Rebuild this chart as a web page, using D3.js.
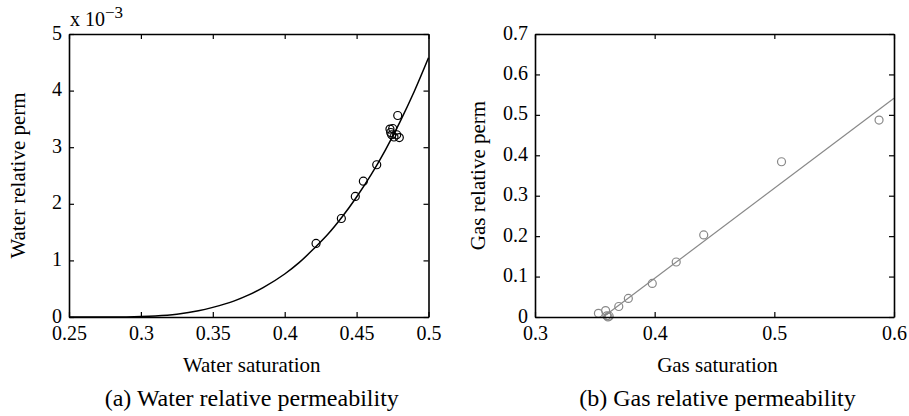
<!DOCTYPE html>
<html>
<head>
<meta charset="utf-8">
<script src="https://cdn.jsdelivr.net/npm/d3@7"></script>
<style>
  html, body { margin: 0; padding: 0; background: #fff; }
  svg text { font-family: "Liberation Serif", "DejaVu Serif", serif; fill: #000; }
</style>
</head>
<body>
<div id="chart"></div>
<script>
// water relative permeability: measured points
const waterSat  = [0.4218, 0.4394, 0.4491, 0.4547, 0.464, 0.4732, 0.4737, 0.4744, 0.4751, 0.476, 0.4779, 0.4786, 0.4797];
const waterPerm = [0.00130, 0.00174, 0.00213, 0.00240, 0.00269, 0.00332, 0.00326, 0.00322, 0.00333, 0.00318, 0.00322, 0.00356, 0.00317];

// water relative permeability: fitted curve
const waterFitSat  = [0.25, 0.27, 0.28, 0.29, 0.30, 0.31, 0.325, 0.34, 0.35, 0.365, 0.375, 0.385, 0.40, 0.41, 0.42, 0.43, 0.44, 0.45, 0.46, 0.47, 0.48, 0.49, 0.50];
const waterFitPerm = [0, 0, 0, 0.000002, 0.000008, 0.000019, 0.00005, 0.000109, 0.00017, 0.000285, 0.00039, 0.00052, 0.00076, 0.00096, 0.00120, 0.00146, 0.00177, 0.00212, 0.00251, 0.00295, 0.00344, 0.00398, 0.00458];

// gas relative permeability: measured points
const gasSat  = [0.353, 0.359, 0.360, 0.361, 0.362, 0.370, 0.378, 0.398, 0.418, 0.441, 0.506, 0.5875];
const gasPerm = [0.009, 0.016, 0.003, 0.0, 0.002, 0.026, 0.046, 0.083, 0.136, 0.203, 0.384, 0.487];

// gas relative permeability: fitted line
const gasFitSat  = [0.357, 0.60];
const gasFitPerm = [0.0, 0.541];

// axis ticks
const waterSatTicks  = [0.25, 0.3, 0.35, 0.4, 0.45, 0.5];
const waterPermTicks = [0, 0.001, 0.002, 0.003, 0.004, 0.005];
const gasSatTicks    = [0.3, 0.4, 0.5, 0.6];
const gasPermTicks   = [0, 0.1, 0.2, 0.3, 0.4, 0.5, 0.6, 0.7];

const W = 909, H = 416;
const FONT = '"Liberation Serif", "DejaVu Serif", serif';
const svg = d3.select('#chart').append('svg')
    .attr('width', W)
    .attr('height', H)
    .attr('viewBox', `0 0 ${W} ${H}`)
    .attr('font-family', FONT);

function drawPanel(opt) {
    const x = d3.scaleLinear().domain(opt.xDomain).range([opt.left, opt.right]);
    const y = d3.scaleLinear().domain(opt.yDomain).range([opt.bottom, opt.top]);
    const g = svg.append('g');

    // fitted curve first, points on top
    const fit = d3.zip(opt.fitX, opt.fitY);
    g.append('path')
        .datum(fit)
        .attr('fill', 'none')
        .attr('stroke', opt.color)
        .attr('stroke-width', opt.lineWidth)
        .attr('d', d3.line().x(d => x(d[0])).y(d => y(d[1])).curve(d3.curveMonotoneX));

    g.selectAll('circle')
        .data(d3.zip(opt.ptX, opt.ptY))
        .join('circle')
        .attr('cx', d => x(d[0]))
        .attr('cy', d => y(d[1]))
        .attr('r', 4)
        .attr('fill', 'none')
        .attr('stroke', opt.color)
        .attr('stroke-width', 1.2);

    // axes, MATLAB style box with inward ticks
    const tick = 5;
    const bottom = g.append('g')
        .attr('transform', `translate(0,${opt.bottom})`)
        .call(d3.axisBottom(x).tickValues(opt.xTicks).tickSizeInner(-tick).tickSizeOuter(0)
            .tickPadding(9).tickFormat(d => String(d)));
    const left = g.append('g')
        .attr('transform', `translate(${opt.left},0)`)
        .call(d3.axisLeft(y).tickValues(opt.yTicks).tickSizeInner(-tick).tickSizeOuter(0)
            .tickPadding(7).tickFormat(opt.yFormat));
    left.selectAll('.tick text').attr('dy', '0.25em');
    const top = g.append('g')
        .attr('transform', `translate(0,${opt.top})`)
        .call(d3.axisTop(x).tickValues(opt.xTicks).tickSizeInner(-tick).tickSizeOuter(0).tickFormat(''));
    const right = g.append('g')
        .attr('transform', `translate(${opt.right},0)`)
        .call(d3.axisRight(y).tickValues(opt.yTicks).tickSizeInner(-tick).tickSizeOuter(0).tickFormat(''));

    [bottom, left, top, right].forEach(a => {
        a.attr('font-family', FONT);
        a.select('.domain').attr('stroke', '#000').attr('stroke-width', 1.6);
        a.selectAll('.tick line').attr('stroke', '#000').attr('stroke-width', 1.2);
        a.selectAll('.tick text')
            .attr('font-size', '20px')
            .attr('fill', '#000');
    });

    const cx = (opt.left + opt.right) / 2;

    // x title
    g.append('text')
        .attr('x', cx + 3)
        .attr('y', 372)
        .attr('text-anchor', 'middle')
        .attr('font-size', '21px')
        .text(opt.xLabel);

    // y title
    g.append('text')
        .attr('transform', `translate(${opt.yLabelX},${(opt.top + opt.bottom) / 2}) rotate(-90)`)
        .attr('text-anchor', 'middle')
        .attr('font-size', '21px')
        .text(opt.yLabel);

    // caption
    g.append('text')
        .attr('x', cx + 3)
        .attr('y', 406)
        .attr('text-anchor', 'middle')
        .attr('font-size', '24px')
        .text(opt.caption);

    return g;
}

const gA = drawPanel({
    left: 69, right: 428.5, top: 34, bottom: 317,
    xDomain: [0.25, 0.5], yDomain: [0, 0.005],
    xTicks: waterSatTicks, yTicks: waterPermTicks,
    yFormat: d => String(Math.round(d * 1000)),
    ptX: waterSat, ptY: waterPerm,
    fitX: waterFitSat, fitY: waterFitPerm,
    color: '#000', lineWidth: 1.5,
    xLabel: 'Water saturation', yLabel: 'Water relative perm', yLabelX: 25,
    caption: '(a) Water relative permeability'
});

// exponent label above the left axis
const expo = gA.append('text')
    .attr('x', 70)
    .attr('y', 26)
    .attr('font-size', '20px');
expo.append('tspan').text('x 10');
expo.append('tspan')
    .attr('dy', -8)
    .attr('font-size', '17px')
    .text('\u22123');

drawPanel({
    left: 535, right: 894, top: 34, bottom: 317,
    xDomain: [0.3, 0.6], yDomain: [0, 0.7],
    xTicks: gasSatTicks, yTicks: gasPermTicks,
    yFormat: d => d === 0 ? '0' : d.toFixed(1),
    ptX: gasSat, ptY: gasPerm,
    fitX: gasFitSat, fitY: gasFitPerm,
    color: '#888', lineWidth: 1.2,
    xLabel: 'Gas saturation', yLabel: 'Gas relative perm', yLabelX: 485,
    caption: '(b) Gas relative permeability'
});
</script>
</body>
</html>
